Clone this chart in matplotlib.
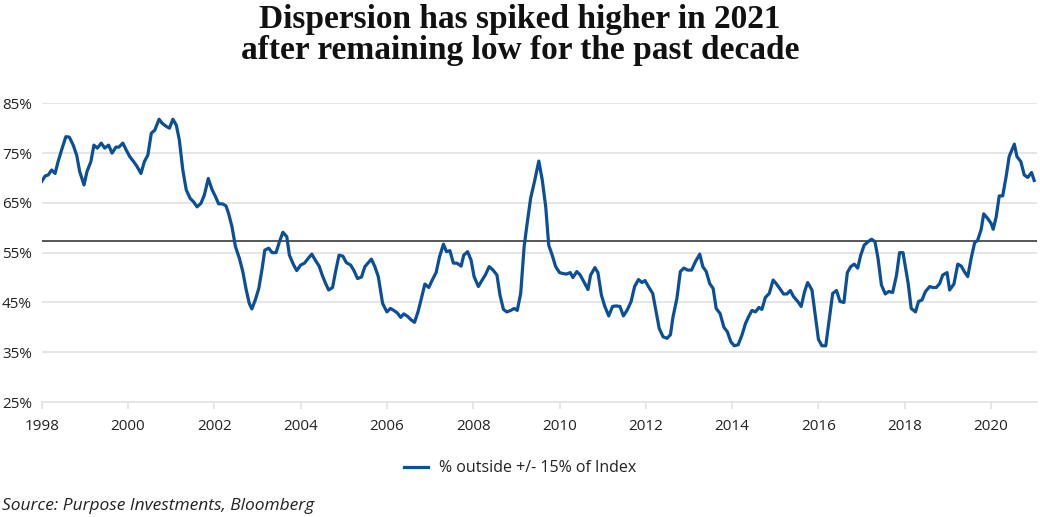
import matplotlib
matplotlib.use("Agg")
import matplotlib.pyplot as plt
from matplotlib.ticker import FuncFormatter

# ---- data ----
dates = [
    1998.00, 1998.08, 1998.15, 1998.23, 1998.31, 1998.38, 1998.46, 1998.56, 1998.64, 1998.73,
    1998.81, 1998.88, 1998.98, 1999.05, 1999.14, 1999.21, 1999.29, 1999.38, 1999.46, 1999.55,
    1999.63, 1999.72, 1999.79, 1999.88, 1999.96, 2000.04, 2000.13, 2000.21, 2000.30, 2000.38,
    2000.46, 2000.54, 2000.62, 2000.72, 2000.79, 2000.88, 2000.96, 2001.04, 2001.12, 2001.19,
    2001.27, 2001.35, 2001.44, 2001.52, 2001.60, 2001.69, 2001.77, 2001.86, 2001.95, 2002.02,
    2002.10, 2002.19, 2002.27, 2002.33, 2002.41, 2002.49, 2002.58, 2002.66, 2002.74, 2002.81,
    2002.87, 2002.95, 2003.03, 2003.11, 2003.17, 2003.26, 2003.34, 2003.43, 2003.51, 2003.59,
    2003.68, 2003.74, 2003.84, 2003.91, 2004.00, 2004.09, 2004.18, 2004.26, 2004.34, 2004.43,
    2004.50, 2004.58, 2004.65, 2004.74, 2004.81, 2004.89, 2004.98, 2005.06, 2005.16, 2005.23,
    2005.32, 2005.41, 2005.49, 2005.57, 2005.64, 2005.72, 2005.80, 2005.90, 2006.00, 2006.08,
    2006.16, 2006.24, 2006.32, 2006.39, 2006.48, 2006.56, 2006.64, 2006.72, 2006.79, 2006.88,
    2006.97, 2007.05, 2007.14, 2007.22, 2007.31, 2007.38, 2007.46, 2007.54, 2007.62, 2007.72,
    2007.78, 2007.87, 2007.95, 2008.02, 2008.12, 2008.20, 2008.28, 2008.37, 2008.46, 2008.55,
    2008.62, 2008.70, 2008.78, 2008.87, 2008.95, 2009.02, 2009.10, 2009.18, 2009.25, 2009.33,
    2009.42, 2009.52, 2009.60, 2009.68, 2009.75, 2009.83, 2009.91, 2010.00, 2010.08, 2010.16,
    2010.25, 2010.31, 2010.40, 2010.48, 2010.56, 2010.66, 2010.72, 2010.82, 2010.89, 2010.97,
    2011.05, 2011.14, 2011.23, 2011.31, 2011.40, 2011.48, 2011.57, 2011.66, 2011.74, 2011.83,
    2011.91, 2011.98, 2012.06, 2012.16, 2012.23, 2012.31, 2012.40, 2012.49, 2012.57, 2012.63,
    2012.72, 2012.80, 2012.88, 2012.97, 2013.06, 2013.15, 2013.25, 2013.32, 2013.40, 2013.48,
    2013.56, 2013.63, 2013.72, 2013.81, 2013.89, 2013.97, 2014.05, 2014.14, 2014.23, 2014.31,
    2014.38, 2014.46, 2014.54, 2014.62, 2014.69, 2014.77, 2014.86, 2014.95, 2015.02, 2015.12,
    2015.19, 2015.27, 2015.35, 2015.42, 2015.52, 2015.60, 2015.68, 2015.75, 2015.85, 2015.92,
    2016.00, 2016.08, 2016.17, 2016.25, 2016.33, 2016.42, 2016.50, 2016.59, 2016.67, 2016.75,
    2016.83, 2016.91, 2016.98, 2017.06, 2017.15, 2017.23, 2017.31, 2017.38, 2017.46, 2017.55,
    2017.63, 2017.72, 2017.81, 2017.88, 2017.96, 2018.08, 2018.15, 2018.25, 2018.32, 2018.40,
    2018.48, 2018.58, 2018.65, 2018.73, 2018.81, 2018.88, 2018.98, 2019.04, 2019.14, 2019.23,
    2019.31, 2019.38, 2019.46, 2019.54, 2019.62, 2019.69, 2019.77, 2019.83, 2019.92, 2020.00,
    2020.05, 2020.12, 2020.19, 2020.27, 2020.35, 2020.42, 2020.54, 2020.60, 2020.69, 2020.77,
    2020.85, 2020.94, 2021.00,
]

pct_outside = [
    69.3, 70.4, 70.6, 71.6, 70.9, 73.3, 75.6, 78.3, 78.2, 76.6,
    74.6, 71.3, 68.6, 71.3, 73.3, 76.6, 76.0, 77.0, 76.0, 76.6,
    75.0, 76.2, 76.2, 77.0, 75.6, 74.3, 73.3, 72.3, 70.9, 73.3,
    74.6, 79.0, 79.6, 81.8, 81.0, 80.4, 80.0, 81.8, 80.6, 77.6,
    71.6, 67.6, 65.9, 65.2, 64.2, 64.9, 66.6, 69.9, 67.6, 66.4,
    64.8, 64.8, 64.4, 62.9, 60.2, 56.2, 53.9, 51.2, 47.5, 44.8,
    43.7, 45.5, 47.8, 51.9, 55.5, 55.9, 55.0, 55.0, 57.2, 59.1,
    58.2, 54.5, 52.5, 51.4, 52.5, 52.9, 53.9, 54.7, 53.5, 52.3,
    50.5, 48.8, 47.5, 48.0, 51.2, 54.5, 54.3, 53.0, 52.5, 51.5,
    49.8, 50.1, 52.2, 53.0, 53.7, 52.2, 50.2, 44.8, 43.1, 43.8,
    43.4, 42.9, 42.0, 42.7, 42.2, 41.5, 41.0, 43.1, 45.5, 48.7,
    48.0, 49.5, 51.0, 54.2, 56.7, 55.2, 55.4, 52.9, 52.9, 52.3,
    54.5, 55.2, 53.5, 50.2, 48.2, 49.4, 50.5, 52.2, 51.5, 50.5,
    46.5, 43.6, 43.1, 43.4, 43.8, 43.4, 46.8, 56.2, 60.9, 65.9,
    69.3, 73.4, 69.6, 64.2, 56.5, 54.5, 52.2, 51.0, 50.8, 50.7,
    51.0, 50.0, 51.2, 50.5, 49.2, 47.6, 50.5, 52.0, 51.0, 46.5,
    44.2, 42.3, 44.2, 44.3, 44.2, 42.3, 43.5, 45.2, 48.2, 49.6,
    49.0, 49.4, 48.2, 46.8, 43.5, 39.8, 38.1, 37.8, 38.5, 42.1,
    45.8, 51.2, 51.9, 51.5, 51.5, 53.2, 54.7, 52.2, 51.2, 48.8,
    47.8, 43.8, 42.8, 40.0, 39.1, 37.1, 36.3, 36.5, 38.5, 40.8,
    42.1, 43.4, 43.1, 44.0, 43.6, 46.0, 46.8, 49.5, 48.8, 47.6,
    46.7, 46.7, 47.4, 46.2, 45.2, 44.2, 47.2, 49.0, 47.5, 42.8,
    37.6, 36.3, 36.3, 41.5, 46.8, 47.4, 45.2, 45.0, 51.0, 52.2,
    52.7, 51.9, 54.5, 56.5, 57.2, 57.7, 57.2, 53.9, 48.5, 46.7,
    47.2, 47.0, 50.5, 55.0, 55.0, 48.8, 43.8, 43.1, 45.2, 45.5,
    47.2, 48.2, 48.0, 48.0, 48.8, 50.5, 51.0, 47.5, 48.7, 52.7,
    52.3, 51.2, 50.2, 53.9, 57.0, 57.5, 59.6, 62.8, 61.9, 60.9,
    59.7, 62.2, 66.4, 66.4, 70.3, 74.3, 76.8, 74.3, 73.3, 70.6,
    70.1, 71.1, 69.5,
]

average_level = 57.3
series_label = "% outside +/- 15% of Index"
y_ticks = [25, 35, 45, 55, 65, 75, 85]
x_ticks = [1998, 2000, 2002, 2004, 2006, 2008, 2010, 2012, 2014, 2016, 2018, 2020]
title_text = "Dispersion has spiked higher in 2021\nafter remaining low for the past decade"
source_text = "Source: Purpose Investments, Bloomberg"

# ---- styling ----
sans = ["Open Sans", "DejaVu Sans"]
plt.rcParams["font.family"] = sans

fig = plt.figure(figsize=(10.4, 5.17), dpi=100)
ax = fig.add_axes([0.0401, 0.2224, 0.9568, 0.5778])

grid_col = "#e4e4e4"
for yv in y_ticks:
    ax.axhline(yv, color=grid_col, lw=1.3, zorder=1)

ax.axhline(average_level, color="#3a3a3a", lw=1.2, zorder=2)
ax.plot(dates, pct_outside, color="#0b4f96", lw=2.3, zorder=3,
        solid_joinstyle="round", label=series_label)

ax.set_xlim(1998, 2021.06)
ax.set_ylim(25, 85)
ax.set_yticks(y_ticks)
ax.yaxis.set_major_formatter(FuncFormatter(lambda v, p: f"{int(v)}%"))
ax.set_xticks(x_ticks)
ax.set_xticklabels([str(t) for t in x_ticks])

for s in ["top", "right", "left"]:
    ax.spines[s].set_visible(False)
ax.spines["bottom"].set_color(grid_col)
ax.spines["bottom"].set_linewidth(1.3)

ax.tick_params(axis="y", length=0, pad=7, labelsize=11, labelcolor="#222222")
ax.tick_params(axis="x", length=5, width=1.3, color=grid_col, pad=7,
               labelsize=11, labelcolor="#222222")

fig.text(0.5, 0.992, title_text, ha="center", va="top",
         fontsize=24, fontweight="bold", family=["Liberation Serif", "DejaVu Serif"],
         linespacing=1.0, color="#111111")

leg = fig.legend(loc="center", bbox_to_anchor=(0.5, 0.094), frameon=False,
                 fontsize=11.5, handlelength=1.5, handletextpad=0.7)
for t in leg.get_texts():
    t.set_color("#222222")

fig.text(0.002, 0.005, source_text, ha="left", va="bottom", fontsize=12.5,
         style="italic", color="#222222")

fig.savefig("out.png", dpi=100)
